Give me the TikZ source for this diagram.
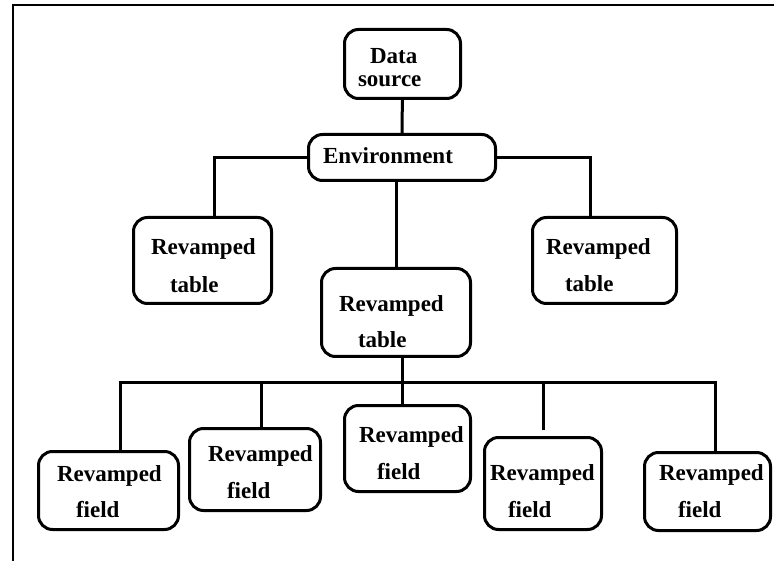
\documentclass[tikz,border=0pt]{standalone}
\usepackage{fontspec}
\setmainfont{Liberation Serif}
\usetikzlibrary{positioning,calc}
\tikzset{
	box/.style={draw, rounded corners=14pt, line width=3pt, outer sep=0},
	lbl/.style={inner sep=0, outer sep=0, anchor=base west,
		font=\bfseries\fontsize{23}{27}\selectfont}
}

\begin{document}
\begin{tikzpicture}[x=1pt, y=-1pt, line width=3pt]
	\useasboundingbox (0,0) rectangle (774,561);
	\draw[line width=2.5pt] (13,561) -- (13,5) -- (774,5);
	% boxes
	\node[box, minimum width=116, minimum height=69] (src) at (402.5, 64) {};
	\node[box, minimum width=187, minimum height=46] (env) at (402, 157.5) {};
	\node[box, minimum width=138, minimum height=86] (ltab) at (202.5, 260.5) {};
	\node[box, minimum width=149, minimum height=88] (ctab) at (396, 312.5) {};
	\node[box, minimum width=144, minimum height=86] (rtab) at (604.5, 260.5) {};
	\node[box, minimum width=140, minimum height=78] (f1) at (108.5, 490.5) {};
	\node[box, minimum width=131, minimum height=82] (f2) at (255, 469.5) {};
	\node[box, minimum width=126, minimum height=86] (f3) at (407.5, 448.5) {};
	\node[box, minimum width=117, minimum height=92] (f4) at (543, 483.5) {};
	\node[box, minimum width=126, minimum height=78] (f5) at (707.5, 491.5) {};
	% texts
	\node[lbl] (src_1) at (370, 64) {Data};
	\node[lbl] (src_2) at (358, 87) {source};
	\node[lbl] (env_1) at (323, 164) {Environment};
	\node[lbl] (ltab_1) at (151, 255) {Revamped};
	\node[lbl] (ltab_2) at (170, 293) {table};
	\node[lbl] (ctab_1) at (339, 312) {Revamped};
	\node[lbl] (ctab_2) at (358, 348) {table};
	\node[lbl] (rtab_1) at (546, 255) {Revamped};
	\node[lbl] (rtab_2) at (565, 292) {table};
	\node[lbl] (f1_1) at (57, 481) {Revamped};
	\node[lbl] (f1_2) at (76, 517) {field};
	\node[lbl] (f2_1) at (208, 461) {Revamped};
	\node[lbl] (f2_2) at (227, 498) {field};
	\node[lbl] (f3_1) at (359, 442) {Revamped};
	\node[lbl] (f3_2) at (377, 479) {field};
	\node[lbl] (f4_1) at (490, 480) {Revamped};
	\node[lbl] (f4_2) at (508, 517) {field};
	\node[lbl] (f5_1) at (659, 480) {Revamped};
	\node[lbl] (f5_2) at (678, 517) {field};
	% links
	\coordinate (bus) at (402, 382);
	\draw (src) -- (env);
	\draw (env.west) -| ([xshift=11.5]ltab.north);
	\draw (env.east) -| ([xshift=-14.5]rtab.north);
	\draw (env.south -| ctab.north) -- (ctab.north);
	\draw (ctab.south -| bus) -- (bus |- f3.north);
	\draw ([xshift=11.5]f1.north) |- (bus);
	\draw ([xshift=6]f2.north) |- (bus);
	\draw[shorten <=8pt] (f4.north) |- (bus);
	\draw ([xshift=7.5]f5.north) |- (bus);
\end{tikzpicture}
\end{document}
